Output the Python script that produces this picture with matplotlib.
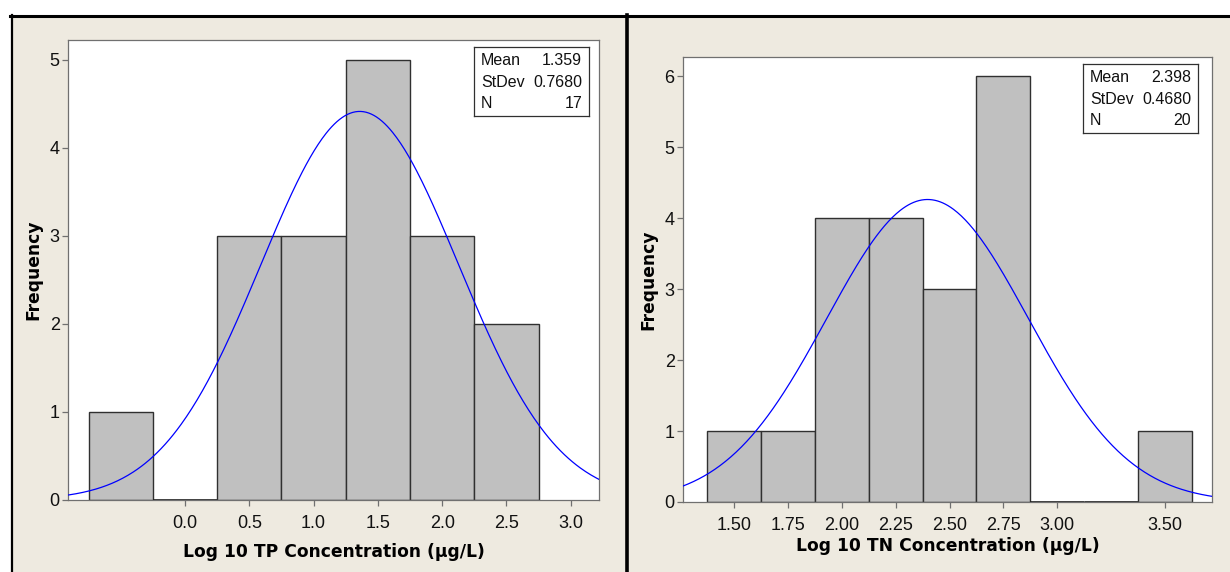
import numpy as np
import matplotlib
matplotlib.use("Agg")
import matplotlib.pyplot as plt
from matplotlib.patches import Rectangle
from matplotlib.lines import Line2D

# ---- data ----
tp_centers = [-0.5, 0.0, 0.5, 1.0, 1.5, 2.0, 2.5]
tp_counts = [1, 0, 3, 3, 5, 3, 2]
tp_width = 0.5
tp_mean, tp_sd, tp_n = 1.359, 0.7680, 17
tp_ticks = [0.0, 0.5, 1.0, 1.5, 2.0, 2.5, 3.0]
tp_ticklabels = ["0.0", "0.5", "1.0", "1.5", "2.0", "2.5", "3.0"]

tn_centers = [1.50, 1.75, 2.00, 2.25, 2.50, 2.75, 3.00, 3.25, 3.50]
tn_counts = [1, 1, 4, 4, 3, 6, 0, 0, 1]
tn_width = 0.25
tn_mean, tn_sd, tn_n = 2.398, 0.4680, 20
tn_ticks = [1.50, 1.75, 2.00, 2.25, 2.50, 2.75, 3.00, 3.50]
tn_ticklabels = ["1.50", "1.75", "2.00", "2.25", "2.50", "2.75", "3.00", "3.50"]

W, H = 1230, 572
fig = plt.figure(figsize=(W / 100, H / 100), dpi=100, facecolor="white")

BEIGE = "#EEEAE0"
fig.patches.append(Rectangle((11 / W, 0), 1 - 11 / W, 1 - 15 / H, transform=fig.transFigure,
                             facecolor=BEIGE, edgecolor="none", zorder=-10))
fig.lines.append(Line2D([10 / W, 1], [1 - 15.5 / H] * 2, transform=fig.transFigure,
                        color="black", lw=2.2, zorder=5))
fig.lines.append(Line2D([11.5 / W] * 2, [0, 1 - 15 / H], transform=fig.transFigure,
                        color="black", lw=1.6, zorder=5))
fig.lines.append(Line2D([626.5 / W] * 2, [0, 1 - 15 / H], transform=fig.transFigure,
                        color="black", lw=2.6, zorder=5))

NARROW = ["Liberation Sans Narrow", "Liberation Sans", "DejaVu Sans"]
tick_font = dict(family=NARROW, size=13)
lab_font = dict(family="DejaVu Sans", weight="bold", size=12.3)


def panel(rect, centers, counts, width, mean, sd, n, xlim, ylim, ticks, ticklabels, xlabel,
          yticks, box_rect, xlabelpad):
    ax = fig.add_axes(rect)
    ax.set_facecolor("white")
    for c, h in zip(centers, counts):
        if h > 0:
            ax.bar(c, h, width=width, color="#C0C0C0", edgecolor="#303030", linewidth=1.0, zorder=2)
        else:
            ax.plot([c - width / 2, c + width / 2], [0.005, 0.005], color="black", lw=1.8,
                    zorder=2, solid_capstyle="butt")
    xs = np.linspace(xlim[0], xlim[1], 400)
    ys = n * width / (sd * np.sqrt(2 * np.pi)) * np.exp(-0.5 * ((xs - mean) / sd) ** 2)
    ax.plot(xs, ys, color="#0000FF", lw=0.9, zorder=3)
    ax.set_xlim(*xlim)
    ax.set_ylim(*ylim)
    ax.set_xticks(ticks)
    ax.set_xticklabels(ticklabels, **tick_font)
    ax.set_yticks(yticks)
    ax.set_yticklabels([str(v) for v in yticks], **tick_font)
    for s in ["top", "right", "left", "bottom"]:
        ax.spines[s].set_color("#707070")
        ax.spines[s].set_linewidth(0.9)
    ax.tick_params(direction="out", length=4, width=0.9, color="#707070", labelcolor="#111111",
                   pad=2)
    ax.tick_params(axis="x", pad=7)
    ax.set_xlabel(xlabel, **lab_font, labelpad=xlabelpad)
    ax.set_ylabel("Frequency", **lab_font, labelpad=5)
    # stats box
    bx = fig.add_axes(box_rect)
    bx.set_xticks([]); bx.set_yticks([])
    bx.set_facecolor("white")
    for s in bx.spines.values():
        s.set_color("#303030"); s.set_linewidth(0.9)
    rows = [("Mean", f"{mean:.3f}"), ("StDev", f"{sd:.4f}"), ("N", f"{n}")]
    for i, (k, v) in enumerate(rows):
        yy = 0.80 - i * 0.31
        bx.text(0.06, yy, k, transform=bx.transAxes, ha="left", va="center",
                family=NARROW, size=11.5, color="#111111")
        bx.text(0.94, yy, v, transform=bx.transAxes, ha="right", va="center",
                family=NARROW, size=11.5, color="#111111")
    return ax


panel([68 / W, 1 - 500 / H, (599 - 68) / W, 460 / H], tp_centers, tp_counts, tp_width,
      tp_mean, tp_sd, tp_n, (-0.91, 3.22), (0, 5.227), tp_ticks, tp_ticklabels,
      "Log 10 TP Concentration (\u00b5g/L)", [0, 1, 2, 3, 4, 5],
      [474 / W, 1 - 116 / H, (589 - 474) / W, 69 / H], 8)

panel([683 / W, 1 - 502 / H, (1212 - 683) / W, 445 / H], tn_centers, tn_counts, tn_width,
      tn_mean, tn_sd, tn_n, (1.263, 3.718), (0, 6.27), tn_ticks, tn_ticklabels,
      "Log 10 TN Concentration (\u00b5g/L)", [0, 1, 2, 3, 4, 5, 6],
      [1083 / W, 1 - 133 / H, (1198 - 1083) / W, 69 / H], 2)

fig.savefig("out.png", dpi=100, facecolor=fig.get_facecolor())
